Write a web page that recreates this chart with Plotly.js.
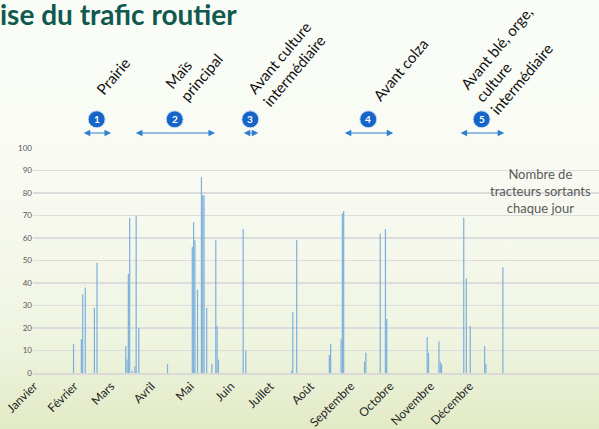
<!DOCTYPE html>
<html>
<head>
<meta charset="utf-8">
<script src="https://cdn.plot.ly/plotly-3.0.1.min.js"></script>
<style>
  html, body { margin: 0; padding: 0; }
  body { width: 599px; height: 429px; overflow: hidden;
         background: linear-gradient(to bottom, #fafcf8 0%, #f8faf2 45%, #eff4e0 80%, #e2eac5 100%); }
  #chart { width: 599px; height: 429px; }
</style>
</head>
<body>
<div id="chart"></div>
<script>
// ---- data ----
var days = [28,34,35,37,44,46, 68,69,70,71,73,75,76,78, 100,
            119,120,121,123,126,127,128,130,134,137,138,139,
            158,160, 195,196,199,
            224,225,233,234,235,251,252,263,267,268,
            299,300,308,309,310,327,329,332,343,344,357];
var tractors = [13,15,35,38,29,49, 12,6,44,69,1,3,70,20, 4,
                56,67,59,37,87,79,79,29,4,59,21,6,
                64,10, 1,27,59,
                8,13,15,71,72,5,9,62,64,24,
                16,9,14,5,4,69,42,21,12,4,47];
var monthStarts = [0,31,59,90,120,151,181,212,243,273,304,334];
var monthNames = ['Janvier','Février','Mars','Avril','Mai','Juin','Juillet','Août','Septembre','Octobre','Novembre','Décembre'];
var periodNums = ['1','2','3','4','5'];
var periodLabels = ['Prairie', 'Maïs<br>principal', 'Avant culture<br>intermédiaire', 'Avant colza', 'Avant blé, orge,<br>culture<br>intermédiaire'];
var periodStart = [34.7, 74.6, 157.3, 234.7, 323.4];
var periodEnd = [56.7, 136.4, 169.6, 273.0, 358.0];

// ---- layout helpers (pixel -> axis/paper) ----
var PLOT_L = 33, PLOT_T = 148, PLOT_B = 373.3, X0PX = 37, PXPERDAY = 1.305;
function pxToDay(px) { return (px - X0PX) / PXPERDAY; }
function pyToPaper(py) { return (PLOT_B - py) / (PLOT_B - PLOT_T); }
var labelCenters = [[113,76],[194,71],[287,64],[400,70],[511,60]];

var annotations = [];
var shapes = [];
for (var i = 0; i < periodNums.length; i++) {
  var mid = (periodStart[i] + periodEnd[i]) / 2;
  annotations.push({
    x: periodEnd[i], y: pyToPaper(133), xref: 'x', yref: 'paper',
    ax: periodStart[i], ay: 0, axref: 'x', ayref: 'pixel',
    text: '', showarrow: true, arrowside: 'end+start', arrowhead: 2,
    arrowsize: 1.3, arrowwidth: 1, arrowcolor: '#2f7fd0'
  });
  shapes.push({
    type: 'circle', xref: 'x', yref: 'paper', xsizemode: 'pixel', ysizemode: 'pixel',
    xanchor: mid, yanchor: pyToPaper(119.3), x0: -8.5, x1: 8.5, y0: -8.5, y1: 8.5,
    fillcolor: '#1565c8', line: {color: '#cfe0f4', width: 1}
  });
  annotations.push({
    x: mid, y: pyToPaper(119.3), xref: 'x', yref: 'paper', showarrow: false,
    text: periodNums[i], font: {family: 'Lato, sans-serif', size: 10, color: '#ffffff', weight: 'bold'},
    xanchor: 'center', yanchor: 'middle'
  });
  annotations.push({
    x: pxToDay(labelCenters[i][0]), y: pyToPaper(labelCenters[i][1]), xref: 'x', yref: 'paper',
    showarrow: false, text: periodLabels[i], textangle: -50, align: 'left',
    xanchor: 'center', yanchor: 'middle',
    font: {family: 'Lato, sans-serif', size: 15, color: '#111111'}
  });
}
annotations.push({
  x: pxToDay(540), y: pyToPaper(191.5), xref: 'x', yref: 'paper', showarrow: false,
  text: 'Nombre de<br>tracteurs sortants<br>chaque jour', align: 'center',
  xanchor: 'center', yanchor: 'middle',
  font: {family: 'Lato, sans-serif', size: 13, color: '#595959'}
});

var trace = {
  type: 'bar', x: days, y: tractors, width: 0.95,
  marker: {color: '#7fb1de', line: {width: 0}},
  hoverinfo: 'x+y'
};

var layout = {
  width: 599, height: 429,
  margin: {l: PLOT_L, r: 0, t: PLOT_T, b: 429 - PLOT_B},
  paper_bgcolor: 'rgba(0,0,0,0)', plot_bgcolor: 'rgba(0,0,0,0)',
  showlegend: false,
  title: {text: '<b>ise du trafic routier</b>', x: 0, xref: 'container', xanchor: 'left',
          y: 1, yref: 'container', yanchor: 'top', pad: {t: 5, l: 0},
          font: {family: 'Lato, sans-serif', size: 28, color: '#10594f'}},
  xaxis: {
    range: [pxToDay(PLOT_L), pxToDay(599)],
    tickmode: 'array', tickvals: monthStarts, ticktext: monthNames,
    tickangle: -45, ticklabelshift: -3,
    tickfont: {family: 'Lato, sans-serif', size: 12, color: '#262626'},
    showgrid: false, zeroline: false, showline: true, linecolor: '#d9d9d9', linewidth: 1.5,
    ticks: '', fixedrange: true
  },
  yaxis: {
    range: [0, 100], dtick: 10, tick0: 0,
    tickfont: {family: 'Lato, sans-serif', size: 8, color: '#595959'},
    gridcolor: '#dcdcdc', gridwidth: 1.5, zeroline: false, showline: false, ticks: '',
    fixedrange: true
  },
  annotations: annotations,
  shapes: shapes
};

Plotly.newPlot('chart', [trace], layout, {displayModeBar: false, staticPlot: true});
</script>
</body>
</html>
